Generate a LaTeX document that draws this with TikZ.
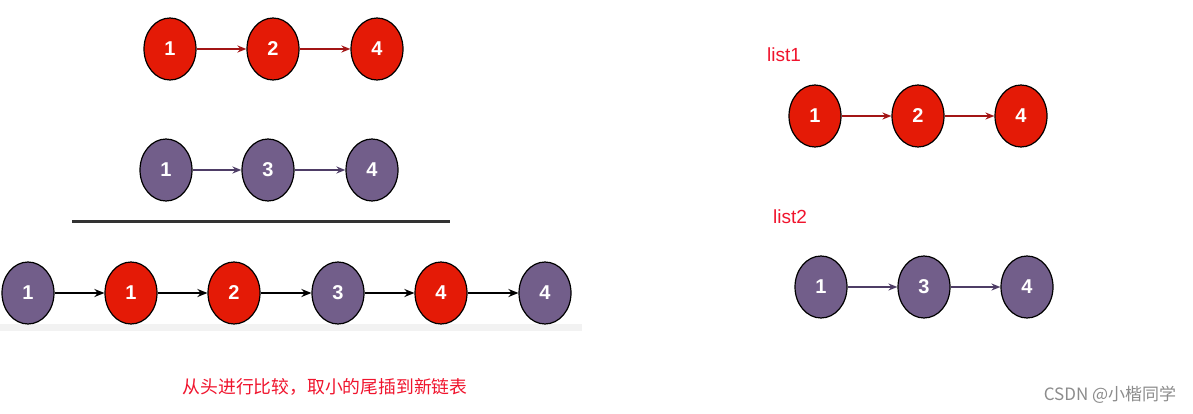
\documentclass[tikz,border=0pt]{standalone}
\usepackage{fontspec}
\setmainfont{Liberation Sans}
\newfontfamily\cjk{Noto Sans CJK SC}
\usetikzlibrary{shapes.geometric, arrows.meta}

\definecolor{nodered}{HTML}{E41A06}
\definecolor{nodepurple}{HTML}{725E8A}
\definecolor{arrowred}{HTML}{A31515}
\definecolor{arrowpurple}{HTML}{4E3D66}
\definecolor{labelred}{HTML}{F0142D}

\tikzset{
    listnode/.style={ellipse, draw=black, line width=1.2pt,
        minimum width=52pt, minimum height=62pt, inner sep=0pt,
        text=white, font=\fontsize{20}{24}\selectfont\bfseries},
    rednode/.style={listnode, fill=nodered},
    purplenode/.style={listnode, fill=nodepurple},
    redlink/.style={-{Stealth[length=9pt,width=7pt]}, arrowred, line width=1.6pt},
    purplelink/.style={-{Stealth[length=9pt,width=7pt]}, arrowpurple, line width=1.6pt},
    blacklink/.style={-{Stealth[length=10pt,width=8pt]}, black, line width=2pt},
    listlabel/.style={text=labelred, font=\fontsize{19}{22}\selectfont},
}

\begin{document}
\begin{tikzpicture}[x=1pt, y=-1pt]
    \useasboundingbox[fill=white] (0,0) rectangle (1193,414);

    % left: the two lists
    \node[rednode] (a1) at (170,49) {1};
    \node[rednode] (a2) at (273,49) {2};
    \node[rednode] (a4) at (377,49) {4};
    \draw[redlink] (a1) -- (a2);
    \draw[redlink] (a2) -- (a4);

    \node[purplenode] (b1) at (166,170) {1};
    \node[purplenode] (b3) at (268,170) {3};
    \node[purplenode] (b4) at (372,170) {4};
    \draw[purplelink] (b1) -- (b3);
    \draw[purplelink] (b3) -- (b4);

    \coordinate (lineL) at (72,221);
    \coordinate (lineR) at (450,221);
    \draw[line width=3pt, black!80] (lineL) -- (lineR);

    % merged list
    \fill[black!5] (0,324) rectangle (582,331);
    \node[purplenode] (m1) at (28,293) {1};
    \node[rednode]    (m2) at (131,293) {1};
    \node[rednode]    (m3) at (234,293) {2};
    \node[purplenode] (m4) at (338,293) {3};
    \node[rednode]    (m5) at (441,293) {4};
    \node[purplenode] (m6) at (545,293) {4};
    \draw[blacklink] (m1) -- (m2);
    \draw[blacklink] (m2) -- (m3);
    \draw[blacklink] (m3) -- (m4);
    \draw[blacklink] (m4) -- (m5);
    \draw[blacklink] (m5) -- (m6);

    % right: list1 and list2
    \node[listlabel] (l1) at (784,55) {list1};
    \node[rednode] (c1) at (815,116) {1};
    \node[rednode] (c2) at (918,116) {2};
    \node[rednode] (c4) at (1021,116) {4};
    \draw[redlink] (c1) -- (c2);
    \draw[redlink] (c2) -- (c4);

    \node[listlabel] (l2) at (790,217) {list2};
    \node[purplenode] (d1) at (821,287) {1};
    \node[purplenode] (d3) at (924,287) {3};
    \node[purplenode] (d4) at (1027,287) {4};
    \draw[purplelink] (d1) -- (d3);
    \draw[purplelink] (d3) -- (d4);

    % captions
    \node[text=labelred, font=\cjk\fontsize{17.8}{21}\selectfont] (cap) at (325,387)
        {从头进行比较，取小的尾插到新链表};
    \node[text=black!45, font=\cjk\fontsize{17}{20}\selectfont] (mark) at (1110,395)
        {CSDN @小楷同学};
\end{tikzpicture}
\end{document}
